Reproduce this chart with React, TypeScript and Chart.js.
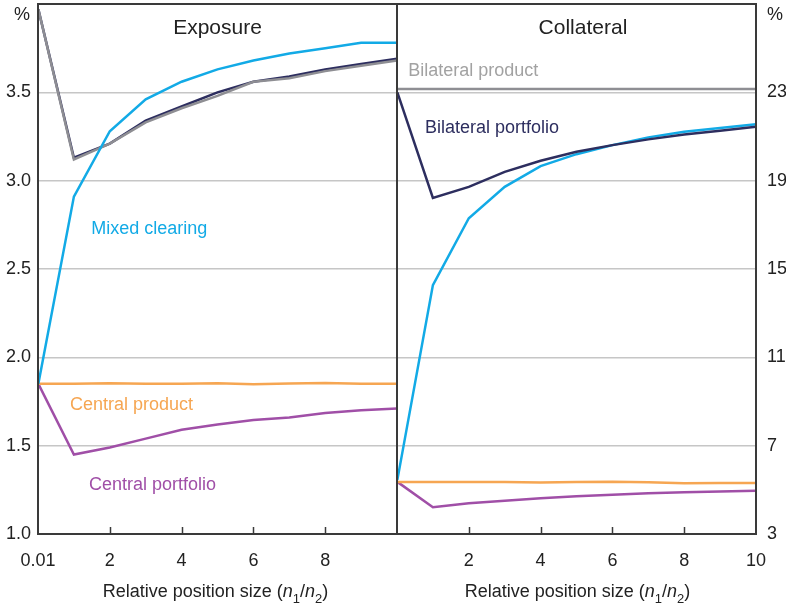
import React, { useEffect, useRef } from "react";
import { Chart, registerables } from "chart.js";

Chart.register(...registerables);

// Relative position size n1/n2
const ratios = [0.01, 1, 2, 3, 4, 5, 6, 7, 8, 9, 10];

// Exposure panel (left axis, %)
const expMixedClearing = [1.85, 2.91, 3.28, 3.46, 3.56, 3.63, 3.68, 3.72, 3.75, 3.78, 3.78];
const expBilateralProduct = [3.97, 3.12, 3.21, 3.33, 3.41, 3.48, 3.56, 3.58, 3.62, 3.65, 3.68];
const expBilateralPortfolio = [3.97, 3.13, 3.21, 3.34, 3.42, 3.5, 3.56, 3.59, 3.63, 3.66, 3.69];
const expCentralProduct = [1.85, 1.85, 1.853, 1.85, 1.85, 1.853, 1.847, 1.852, 1.855, 1.85, 1.85];
const expCentralPortfolio = [1.85, 1.45, 1.49, 1.54, 1.59, 1.62, 1.645, 1.66, 1.685, 1.7, 1.71];

// Collateral panel (right axis, %)
const colMixedClearing = [5.45, 14.27, 17.3, 18.72, 19.66, 20.2, 20.61, 20.96, 21.21, 21.39, 21.56];
const colBilateralProduct = [23.15, 23.15, 23.15, 23.15, 23.15, 23.15, 23.15, 23.15, 23.15, 23.15, 23.15];
const colBilateralPortfolio = [23.0, 18.22, 18.72, 19.4, 19.9, 20.31, 20.61, 20.87, 21.09, 21.26, 21.44];
const colCentralProduct = [5.36, 5.35, 5.35, 5.35, 5.33, 5.35, 5.37, 5.34, 5.3, 5.31, 5.31];
const colCentralPortfolio = [5.36, 4.21, 4.39, 4.51, 4.62, 4.71, 4.78, 4.84, 4.89, 4.92, 4.96];

// Axis ticks
const xTickLabelsLeft = ["0.01", "2", "4", "6", "8", ""];
const xTickLabelsRight = ["", "2", "4", "6", "8", "10"];
const panelTitles = ["Exposure", "Collateral"];
const xAxisTitle = "Relative position size (";

const PANEL_SPAN = 10;

const C = {
  blue: "#12aae6",
  navy: "#2d2e5f",
  gray: "#8e8e93",
  grayText: "#a2a2a2",
  orange: "#f6a652",
  purple: "#a04fa7",
  text: "#222222",
  frame: "#3a3a3a",
  grid: "#c6c6c6",
};
const FONT = "'Liberation Sans', Arial, sans-serif";

function pts(vals: number[], offset: number) {
  return vals.map((v, i) => ({ x: ratios[i] + offset, y: v }));
}

function line(label: string, vals: number[], offset: number, color: string, axis: string) {
  return {
    label,
    data: pts(vals, offset),
    borderColor: color,
    backgroundColor: color,
    borderWidth: 2.5,
    pointRadius: 0,
    tension: 0,
    fill: false,
    yAxisID: axis,
  };
}

const noPad = (s: any) => {
  s.paddingTop = 0;
  s.paddingBottom = 0;
  s.paddingLeft = 0;
  s.paddingRight = 0;
};

const overlayPlugin = {
  id: "overlay",
  afterDatasetsDraw(chart: any) {
    const { ctx, chartArea: a, scales } = chart;
    const xs = scales.x;
    ctx.save();
    // inner tick marks
    ctx.strokeStyle = C.frame;
    ctx.lineWidth = 1.5;
    for (let v = 2; v < 2 * PANEL_SPAN; v += 2) {
      if (v === PANEL_SPAN) continue;
      const px = Math.round(xs.getPixelForValue(v)) + 0.5;
      ctx.beginPath();
      ctx.moveTo(px, a.bottom);
      ctx.lineTo(px, a.bottom - 7);
      ctx.stroke();
    }
    // frame
    ctx.lineWidth = 2;
    ctx.strokeRect(a.left, a.top, a.right - a.left, a.bottom - a.top);
    const mid = xs.getPixelForValue(PANEL_SPAN);
    ctx.beginPath();
    ctx.moveTo(mid, a.top);
    ctx.lineTo(mid, a.bottom);
    ctx.stroke();
    ctx.restore();
  },
  afterDraw(chart: any) {
    const { ctx, chartArea: a, scales } = chart;
    const xs = scales.x;
    const y = scales.y;
    const y2 = scales.y2;
    ctx.save();
    ctx.textBaseline = "alphabetic";

    // panel titles
    ctx.fillStyle = C.text;
    ctx.font = `21px ${FONT}`;
    ctx.textAlign = "center";
    ctx.fillText(panelTitles[0], xs.getPixelForValue(5.0), y.getPixelForValue(3.83));
    ctx.fillText(panelTitles[1], xs.getPixelForValue(PANEL_SPAN + 5.18), y.getPixelForValue(3.83));

    // % units
    ctx.font = `18px ${FONT}`;
    ctx.textAlign = "left";
    ctx.fillText("%", 14, 20);
    ctx.fillText("%", a.right + 11, 20);

    // series labels
    const lbl = (t: string, xv: number, py: number, col: string) => {
      ctx.fillStyle = col;
      ctx.fillText(t, xs.getPixelForValue(xv), py);
    };
    ctx.font = `18px ${FONT}`;
    lbl("Mixed clearing", 1.48, y.getPixelForValue(2.7), C.blue);
    lbl("Central product", 0.89, y.getPixelForValue(1.7), C.orange);
    lbl("Central portfolio", 1.42, y.getPixelForValue(1.25), C.purple);
    lbl("Bilateral product", PANEL_SPAN + 0.31, y2.getPixelForValue(23.73), C.grayText);
    lbl("Bilateral portfolio", PANEL_SPAN + 0.78, y2.getPixelForValue(21.15), C.navy);

    // x axis titles with italic n and subscripts
    const drawTitle = (cx: number, base: number) => {
      const parts: [string, string, number][] = [
        [xAxisTitle, `18px ${FONT}`, 0],
        ["n", `italic 18px ${FONT}`, 0],
        ["1", `13px ${FONT}`, 6],
        ["/", `18px ${FONT}`, 0],
        ["n", `italic 18px ${FONT}`, 0],
        ["2", `13px ${FONT}`, 6],
        [")", `18px ${FONT}`, 0],
      ];
      let total = 0;
      for (const [t, f] of parts) {
        ctx.font = f;
        total += ctx.measureText(t).width;
      }
      let x = cx - total / 2;
      ctx.fillStyle = C.text;
      ctx.textAlign = "left";
      for (const [t, f, dy] of parts) {
        ctx.font = f;
        ctx.fillText(t, x, base + dy);
        x += ctx.measureText(t).width;
      }
    };
    const mid = xs.getPixelForValue(PANEL_SPAN);
    drawTitle((a.left + mid) / 2 - 2, 597);
    drawTitle((mid + a.right) / 2 + 1, 597);
    ctx.restore();
  },
};

export default function App() {
  const ref = useRef<HTMLCanvasElement | null>(null);

  useEffect(() => {
    if (!ref.current) return;
    const chart = new Chart(ref.current, {
      type: "line",
      data: {
        datasets: [
          line("Mixed clearing", expMixedClearing, 0, C.blue, "y"),
          line("Bilateral product", expBilateralProduct, 0, C.gray, "y"),
          line("Bilateral portfolio", expBilateralPortfolio, 0, C.navy, "y"),
          line("Central product", expCentralProduct, 0, C.orange, "y"),
          line("Central portfolio", expCentralPortfolio, 0, C.purple, "y"),
          line("Bilateral product", colBilateralProduct, PANEL_SPAN, C.gray, "y2"),
          line("Bilateral portfolio", colBilateralPortfolio, PANEL_SPAN, C.navy, "y2"),
          line("Mixed clearing", colMixedClearing, PANEL_SPAN, C.blue, "y2"),
          line("Central product", colCentralProduct, PANEL_SPAN, C.orange, "y2"),
          line("Central portfolio", colCentralPortfolio, PANEL_SPAN, C.purple, "y2"),
        ],
      },
      options: {
        animation: false,
        responsive: true,
        maintainAspectRatio: false,
        layout: { padding: { top: 4, left: 0, right: 0, bottom: 0 } },
        plugins: { legend: { display: false }, tooltip: { enabled: false } },
        scales: {
          x: {
            type: "linear",
            min: 0,
            max: 2 * PANEL_SPAN,
            afterFit: (s: any) => {
              s.height = 73;
              noPad(s);
            },
            afterBuildTicks: (s: any) => {
              const t = [];
              for (let v = 0; v <= 2 * PANEL_SPAN; v += 2) t.push({ value: v });
              s.ticks = t;
            },
            grid: { display: false, drawTicks: false },
            border: { display: false },
            ticks: {
              autoSkip: false,
              maxRotation: 0,
              padding: 16,
              color: C.text,
              font: { size: 18, family: FONT },
              callback: (v: any) => {
                const n = Number(v);
                const i = Math.round(n / 2);
                return n <= PANEL_SPAN ? xTickLabelsLeft[i] : xTickLabelsRight[i - PANEL_SPAN / 2];
              },
            },
          },
          y: {
            position: "left",
            min: 1,
            max: 4,
            afterFit: (s: any) => {
              s.width = 38;
              noPad(s);
            },
            grid: {
              color: C.grid,
              lineWidth: 1.5,
              drawTicks: false,
            },
            border: { display: false },
            ticks: {
              stepSize: 0.5,
              padding: 7,
              color: C.text,
              font: { size: 18, family: FONT },
              callback: (v: any) => (Number(v) >= 4 ? "" : Number(v).toFixed(1)),
            },
          },
          y2: {
            position: "right",
            min: 3,
            max: 27,
            afterFit: (s: any) => {
              s.width = 30;
              noPad(s);
            },
            grid: { display: false, drawTicks: false },
            border: { display: false },
            ticks: {
              stepSize: 4,
              padding: 11,
              color: C.text,
              font: { size: 18, family: FONT },
              callback: (v: any) => (Number(v) >= 27 ? "" : String(v)),
            },
          },
        },
      },
      plugins: [overlayPlugin],
    } as any);
    return () => chart.destroy();
  }, []);

  return (
    <div style={{ position: "absolute", left: 0, top: 0, width: 786, height: 607 }}>
      <canvas ref={ref} />
    </div>
  );
}
